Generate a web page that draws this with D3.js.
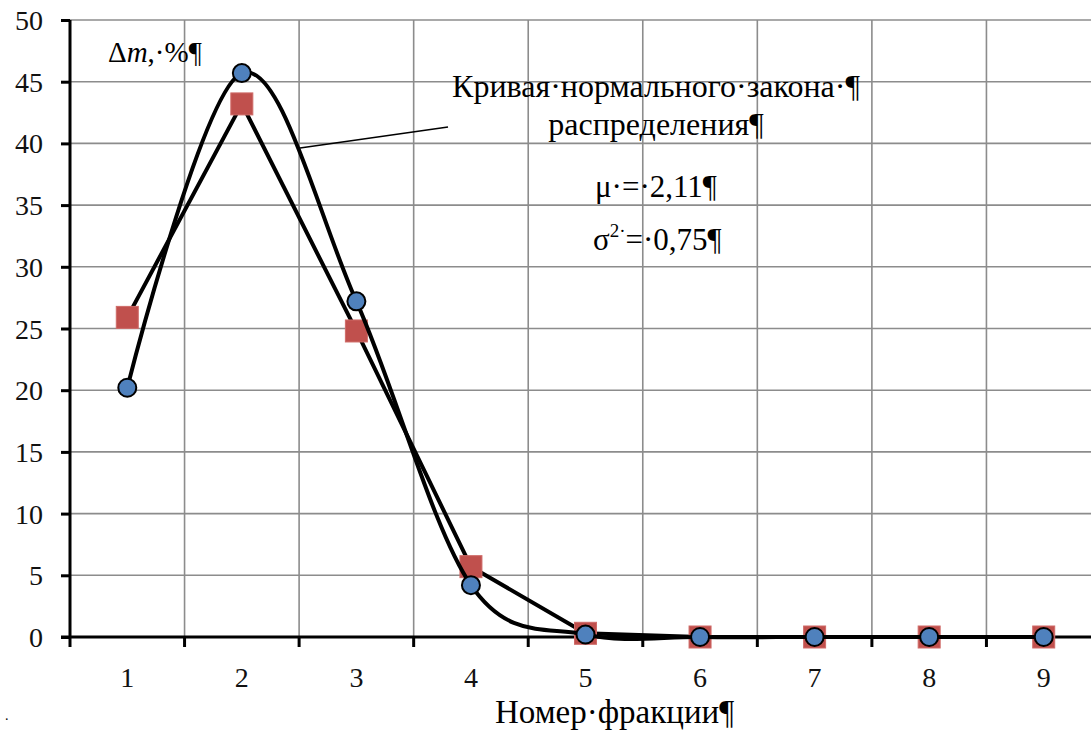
<!DOCTYPE html>
<html lang="ru">
<head>
    <meta charset="UTF-8">
    <title>Распределение по фракциям</title>
    <style>
        body { margin: 0; background: #fff; }
        svg { display: block; }
    </style>
</head>
<body>
    <svg id="chart" width="1091" height="730"></svg>
    <script src="https://d3js.org/d3.v7.min.js"></script>
    <script>
        // fractions on the x axis
        const fractions = [1, 2, 3, 4, 5, 6, 7, 8, 9];
        // experimental values (red squares, straight line)
        const measured = [25.9, 43.2, 24.8, 5.7, 0.3, 0, 0, 0, 0];
        // normal law curve (blue circles, smoothed line)
        const normal = [20.2, 45.7, 27.2, 4.2, 0.2, 0, 0, 0, 0];
        const yTicks = [0, 5, 10, 15, 20, 25, 30, 35, 40, 45, 50];

        const FONT = "'Liberation Serif', 'Times New Roman', serif";
        const svg = d3.select('#chart');
        const mLeft = 70, mRight = 1101, mTop = 20, mBottom = 637;

        const x = d3.scaleBand().domain(fractions).range([mLeft, mRight]).padding(0);
        const y = d3.scaleLinear().domain([0, 50]).range([mBottom, mTop]);
        const cx = d => x(d) + x.bandwidth() / 2;

        // grid
        const grid = svg.append('g').attr('stroke', '#8c8c8c').attr('stroke-width', 1.6);
        grid.selectAll('.hg').data(yTicks.filter(v => v > 0)).enter().append('line')
            .attr('x1', mLeft).attr('x2', mRight)
            .attr('y1', d => y(d)).attr('y2', d => y(d));
        grid.selectAll('.vg').data(fractions).enter().append('line')
            .attr('x1', d => x(d) + x.bandwidth()).attr('x2', d => x(d) + x.bandwidth())
            .attr('y1', mTop).attr('y2', mBottom);

        // y axis
        const yAxis = svg.append('g').attr('transform', `translate(${mLeft},0)`)
            .call(d3.axisLeft(y).tickValues(yTicks).tickSize(9).tickPadding(18));
        yAxis.select('.domain').attr('stroke', '#000').attr('stroke-width', 3)
            .attr('d', `M0,${mTop}V${mBottom}`);
        yAxis.selectAll('.tick line').attr('stroke', '#000').attr('stroke-width', 3);
        yAxis.selectAll('.tick text').attr('dy', '0.34em');

        // x axis labels at centers, ticks at band boundaries
        const xAxis = svg.append('g').attr('transform', `translate(0,${mBottom})`)
            .call(d3.axisBottom(x).tickSize(0).tickPadding(30));
        xAxis.select('.domain').remove();
        svg.append('g').selectAll('line').data([0].concat(fractions)).enter().append('line')
            .attr('x1', (d, i) => mLeft + i * x.bandwidth()).attr('x2', (d, i) => mLeft + i * x.bandwidth())
            .attr('y1', mBottom).attr('y2', mBottom + 10)
            .attr('stroke', '#000').attr('stroke-width', 3);
        svg.append('line').attr('x1', mLeft - 9).attr('x2', mRight).attr('y1', mBottom).attr('y2', mBottom)
            .attr('stroke', '#000').attr('stroke-width', 3);
        svg.selectAll('.tick text').style('font-family', FONT).style('font-size', '28px').attr('fill', '#111');

        // measured series: straight line + squares
        const straight = d3.line().x((d, i) => cx(fractions[i])).y(d => y(d));
        svg.append('path').datum(measured).attr('d', straight)
            .attr('fill', 'none').attr('stroke', '#000').attr('stroke-width', 4).attr('stroke-linejoin', 'round');
        svg.selectAll('.sq').data(measured).enter().append('rect')
            .attr('x', (d, i) => cx(fractions[i]) - 11).attr('y', d => y(d) - 11)
            .attr('width', 22).attr('height', 22)
            .attr('fill', '#c0504d').attr('stroke', '#cf6b68').attr('stroke-width', 1);

        // normal curve: smoothed line + circles
        const smooth = d3.line().x((d, i) => cx(fractions[i])).y(d => y(d))
            .curve(d3.curveCardinal.tension(0));
        svg.append('path').datum(normal).attr('d', smooth)
            .attr('fill', 'none').attr('stroke', '#000').attr('stroke-width', 4);
        svg.selectAll('.ci').data(normal).enter().append('circle')
            .attr('cx', (d, i) => cx(fractions[i])).attr('cy', d => y(d)).attr('r', 9)
            .attr('fill', '#4f81bd').attr('stroke', '#000').attr('stroke-width', 2);

        // leader line
        svg.append('line').attr('x1', 300).attr('y1', 148).attr('x2', 448).attr('y2', 127)
            .attr('stroke', '#000').attr('stroke-width', 1.5);

        // annotations
        const note = (px, py, size) => svg.append('text').attr('x', px).attr('y', py)
            .style('font-family', FONT).style('font-size', size + 'px').attr('fill', '#000');

        const dm = note(108, 62, 29);
        dm.append('tspan').text('Δ');
        dm.append('tspan').style('font-style', 'italic').text('m');
        dm.append('tspan').text(',·%¶');

        note(656, 97, 32).attr('text-anchor', 'middle').text('Кривая·нормального·закона·¶');
        note(656, 135, 32).attr('text-anchor', 'middle').text('распределения¶');

        note(595, 197, 31).text('μ·=·2,11¶');
        const sg = note(593, 250, 31);
        sg.append('tspan').text('σ');
        sg.append('tspan').style('font-size', '19px').attr('dy', -13).text('2·');
        sg.append('tspan').attr('dy', 13).text('=·0,75¶');

        note(495, 723, 33).text('Номер·фракции¶');
        note(5, 720, 14).text('.');
    </script>
</body>
</html>
